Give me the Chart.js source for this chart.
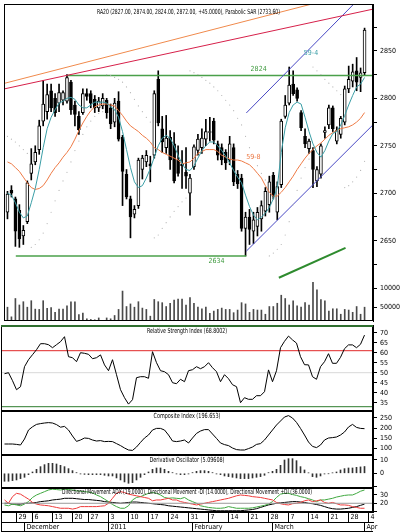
<!DOCTYPE html>
<html>
<head>
<meta charset="utf-8">
<title>RA20</title>
<script src="https://cdn.jsdelivr.net/npm/chart.js@4.4.1/dist/chart.umd.min.js"></script>
<style>
  html, body { margin: 0; padding: 0; background: #fff; }
  .board { position: relative; width: 400px; height: 532px; overflow: hidden; background: #fff; }
  .board canvas { position: absolute; left: 0; }
</style>
</head>
<body>
<div class="board">
  <canvas id="pricePanel" width="400" height="325" style="top:0"></canvas>
  <canvas id="rsiPanel" width="400" height="86" style="top:325px"></canvas>
  <canvas id="compositePanel" width="400" height="44" style="top:411px"></canvas>
  <canvas id="oscPanel" width="400" height="33" style="top:455px"></canvas>
  <canvas id="dmiPanel" width="400" height="44" style="top:488px"></canvas>
</div>
<script>
// daily candles, late Nov 2010 .. 1 Apr 2011
const opens = [
  2680,2703,2694,2682,2655,2670,2721,2733,2746,2776,
  2786,2808,2800,2795,2798,2797,2817,2793,2781,2785,
  2805,2805,2799,2790,2792,2798,2790,2775,2797,2759,
  2720,2694,2678,2687,2725,2733,2731,2740,2820,2768,
  2748,2759,2752,2735,2731,2722,2700,2728,2745,2748,
  2757,2764,2776,2752,2748,2743,2735,2748,2720,2716,
  2663,2675,2660,2665,2673,2681,2688,2719,2680,2709,
  2781,2795,2815,2809,2785,2760,2747,2745,2713,2720,
  2764,2772,2790,2755,2762,2775,2810,2818,2829,2822,
  2827];
const highs = [
  2702,2708,2696,2688,2666,2713,2747,2750,2777,2819,
  2815,2815,2805,2815,2808,2825,2819,2797,2786,2810,
  2810,2808,2803,2801,2805,2800,2794,2800,2807,2761,
  2725,2697,2687,2737,2740,2745,2739,2808,2829,2781,
  2782,2766,2764,2750,2745,2748,2720,2751,2762,2768,
  2778,2780,2779,2755,2752,2746,2760,2752,2724,2720,
  2680,2683,2680,2685,2692,2706,2718,2722,2712,2778,
  2803,2833,2829,2811,2787,2768,2757,2748,2728,2752,
  2770,2793,2792,2770,2781,2813,2834,2836,2843,2832,
  2874];
const lows = [
  2673,2696,2644,2643,2646,2668,2714,2730,2741,2771,
  2778,2786,2781,2786,2793,2795,2783,2771,2762,2783,
  2798,2790,2785,2786,2789,2779,2768,2770,2755,2687,
  2694,2653,2674,2684,2715,2728,2712,2737,2771,2743,
  2742,2725,2711,2718,2705,2705,2677,2725,2740,2742,
  2750,2755,2752,2735,2730,2725,2730,2708,2705,2660,
  2634,2646,2647,2655,2660,2676,2680,2694,2672,2706,
  2779,2793,2803,2797,2766,2748,2742,2706,2707,2716,
  2758,2768,2765,2752,2758,2772,2806,2812,2808,2807,
  2824];
const closes = [
  2699,2700,2660,2652,2661,2711,2731,2743,2771,2794,
  2804,2790,2785,2806,2806,2822,2788,2783,2767,2805,
  2802,2795,2790,2797,2800,2785,2773,2795,2757,2723,
  2696,2675,2683,2735,2737,2740,2729,2805,2774,2754,
  2758,2735,2713,2721,2729,2718,2716,2749,2757,2758,
  2765,2765,2756,2740,2735,2732,2752,2712,2710,2663,
  2675,2662,2672,2680,2687,2702,2712,2697,2707,2776,
  2793,2814,2805,2800,2769,2752,2755,2725,2725,2750,
  2766,2790,2768,2766,2779,2810,2820,2828,2817,2827,
  2872];
const volumes = [
  50000,24000,73400,56000,64800,50000,67500,44800,44000,67500,
  46600,49000,36200,44800,44800,53600,64800,64800,30000,34400,
  18700,17000,16000,21000,14000,21000,18700,27600,44000,93500,
  51800,58800,50000,64800,47600,44000,25800,70800,64800,62200,
  51800,60600,69300,71900,71900,56000,76000,60600,50000,45700,
  50000,33500,39500,44000,47600,44000,44000,35200,42300,62200,
  58800,36200,44000,42300,42300,31000,51800,51800,60600,82300,
  73400,56000,67500,53600,50000,62200,56000,117000,96900,70800,
  67500,39500,45700,45700,31000,44000,42300,36200,51800,31000,
  50000];
const fastMa = [
  2700,2698,2690,2680,2674,2676,2690,2705,2725,2748,
  2768,2780,2788,2795,2797,2800,2801,2799,2793,2790,
  2790,2793,2796,2796,2796,2795,2791,2788,2780,2765,
  2746,2727,2712,2706,2708,2716,2726,2738,2750,2758,
  2761,2758,2750,2740,2731,2725,2724,2729,2737,2745,
  2750,2754,2754,2750,2745,2739,2732,2724,2717,2711,
  2698,2686,2677,2672,2675,2679,2685,2694,2706,2743,
  2769,2785,2793,2796,2794,2780,2765,2752,2743,2738,
  2745,2755,2763,2765,2772,2782,2793,2803,2812,2815,
  2822];
const slowMa = [
  2733,2731,2727,2723,2717,2711,2706,2704,2705,2708,
  2714,2721,2727,2732,2738,2743,2749,2757,2766,2774,
  2781,2787,2791,2793,2794,2794,2793,2792,2787,2782,
  2776,2771,2768,2765,2761,2758,2754,2748,2746,2743,
  2741,2739,2737,2735,2731,2732,2733,2737,2742,2744,
  2746,2746,2746,2744,2740,2738,2736,2735,2735,2734,
  2732,2730,2726,2721,2716,2708,2701,2697,2697,2701,
  2706,2712,2718,2725,2731,2737,2742,2746,2750,2753,
  2757,2761,2764,2766,2768,2769,2770,2772,2775,2779,
  2785];
const sar = [
  2760,2757,2754,2750,2746,2742,2643,2646,2651,2658,
  2668,2680,2692,2703,2713,2722,2733,2745,2755,2762,
  2770,2776,2781,2784,2786,2825,2824,2822,2820,2817,
  2812,2806,2799,2792,2786,2780,2775,2653,2656,2663,
  2669,2675,2681,2686,2691,2695,2829,2827,2825,2822,
  2819,2816,2812,2808,2803,2798,2793,2787,2779,2772,
  2760,2748,2738,2729,2721,2714,2634,2637,2641,2646,
  2656,2670,2688,2703,2716,2727,2736,2833,2829,2825,
  2820,2816,2812,2808,2804,2706,2708,2712,2717,2724,
  2733.6];
const rsi = [
  49.5,50,46,41.5,43,53,56.5,59,61.5,64.5,
  64.5,64,62.5,64,65.5,68,58,57.5,55.5,60,
  59.7,59.2,57,57.5,58.9,53.9,51,56.5,49,41.5,
  37.5,34.3,36.5,47.5,48,48,47.2,60.5,55,51,
  50.5,49,45,44.5,46.7,45.5,51,51.5,53,52,
  53,55,52.5,50.5,45.5,49,47,44,43,35,
  37.5,36.7,36.7,38.5,38.5,40.5,51.4,45.5,51,62.5,
  65.7,68.3,66.4,64.8,58,54,53.9,48,46.7,53,
  55.5,59.5,54.7,54.7,57.7,62,63.9,63.9,62.5,64.2,
  68.8];
const composite = [
  120,120,120,118,115,145,190,206,218,222,
  225,227,225,217,204,208,190,160,133,140,
  150,148,140,135,137,132,133,132,122,112,
  100,90,88,105,128,150,165,190,198,198,
  190,165,135,132,135,140,125,150,173,185,
  192,192,170,148,125,117,112,100,92,90,
  90,97,105,118,122,140,165,190,215,235,
  255,262,250,228,198,165,130,108,102,115,
  140,150,152,155,165,180,205,218,203,198,
  196.7];
const derivOsc = [
  -6,-6,-5.5,-5,-4,-3,-1,1,3,5,
  6.5,7.5,7.5,7,6,5,3.5,2,0.5,-0.5,
  -0.8,-1,-1,-1,-1,-1.5,-2,-2,-3.5,-5,
  -6.5,-7.5,-7,-5,-3,-1,1,3,4,4,
  3,1.5,0.5,-0.5,-1,-1,-0.5,0.5,1.5,2,
  2,1.5,0.5,-0.5,-1,-2,-2.5,-3,-3.5,-4,
  -4,-4,-3.5,-3,-2.5,-1.5,0.5,1.5,3,6,
  10,11,11,9.5,5,2.5,0.3,-2.5,-3,-2,
  -0.5,-0.3,0.3,1,2.5,3.5,4,4,4.5,4.8,
  5.1];
const adx = [
  20,20,19,19,19,20,20,20.5,21,22,
  22.5,23,24,24.5,25,26,26,26,25.5,25,
  24.5,24.5,24,23.5,23,22,21.5,21,20.5,20,
  20.5,21,21.5,21.5,21,20.5,20,19.5,19,18.5,
  18,17,16.5,16,15.5,15,14.5,14,13.5,13,
  12.5,12,11.5,11,11,11,11,11,11,11,
  11.5,12,12.5,13.5,15,16.5,18,19,20,20.5,
  21,21.5,22,22,21.5,21,20,19.5,18.5,17.5,
  16,14.5,13.5,13,13,13.5,14,15,16,17.5,
  19];
const minusDi = [
  24,20,28,32,31,28,25,21,19,18,
  17.5,17,16,15,14,14,14,13,14,16,
  16,16,16,16,16.5,17,20,26,32,34,
  33,31,30,29,28,27,26,23,24,24,
  25,26,24,24,22,21,20,19,18,19,
  20,21,22,23,24,25,26,27.5,29,30,
  29.5,29,28,27.5,27,26,25,24,21,19.5,
  18.5,18,19.5,20,21,23,24,22,23,24,
  21,20,21,19.5,18,18,17.5,16,15,14,
  14];
const plusDi = [
  18,17,19,18,17,19,22,27,30,32,
  34,36,37,36.5,36,37,36.5,36,35,34.5,
  34,33.5,32.5,30,28,25,22,18.5,16,14,
  14,17,24,27,28,30,32,33,32,30,
  27,26,26.5,26,25.5,27,24,22,20,17,
  16,15,14.5,14,14,14.5,16,15,14,14,
  14,14,14.5,15.5,16.5,17.5,19,22,27,31,
  32,32,30.5,29.5,28,27,25.5,24,22,24,
  24,25,26,27.5,28.5,29.5,30,30,32,34.5,
  36];

// date axis: week starts and month starts, as candle indexes
const weekIdx = [3, 7, 12, 17, 21, 26, 31, 36, 41, 46, 51, 56, 61, 66, 71, 76, 81, 86, 91];
const weekText = ['29', '6', '13', '20', '27', '3', '10', '17', '24', '31', '7', '14', '21', '28', '7', '14', '21', '28', '4'];
const monthIdx = [5, 26, 47, 67, 90];
const monthText = ['December', '2011', 'February', 'March', 'Apr'];

// right axis ticks
const priceTicks = [2625, 2650, 2675, 2700, 2725, 2750, 2775, 2800, 2825, 2850, 2875];
const priceLabels = [2650, 2700, 2750, 2800, 2850];
const volumeTicks = [50000, 100000];
const rsiTicks = [35, 40, 45, 50, 55, 60, 65, 70];
const compositeTicks = [100, 150, 200, 250];
const oscTicks = [-10, 0, 10];
const oscLabels = [0, 10];
const dmiTicks = [10, 20, 30];
const dmiLabels = [20, 30];

const FONT = "'Liberation Sans Narrow', 'DejaVu Sans Condensed', 'Liberation Sans', Arial, sans-serif";
const tickFont = { family: FONT, size: 7 };
const X_MIN = -0.875, X_MAX = 92.125, AXIS_W = 27;

const pts = arr => arr.map((y, i) => ({ x: i, y }));
const segment = (x1, y1, x2, y2) => [{ x: x1, y: y1 }, { x: x2, y: y2 }];
const level = v => segment(X_MIN, v, X_MAX, v);

function lineSet(data, color, axis, width) {
  return { type: 'line', data, borderColor: color, borderWidth: width || 1, pointRadius: 0,
           fill: false, yAxisID: axis, order: 0 };
}

function rightAxis(min, max, ticks, labelled, extra) {
  return Object.assign({
    type: 'linear', position: 'right', min, max,
    afterBuildTicks: s => { s.ticks = ticks.map(v => ({ value: v })); },
    afterFit: s => { s.width = AXIS_W; s.paddingTop = 0; s.paddingBottom = 0; },
    ticks: { font: tickFont, color: '#000', padding: 3, autoSkip: false,
             callback: v => labelled.includes(v) ? String(v) : '' },
    grid: { drawOnChartArea: false, tickLength: 4, color: '#000' },
    border: { color: '#000' }
  }, extra || {});
}

const hiddenX = () => ({ type: 'linear', display: false, min: X_MIN, max: X_MAX, offset: false });

function panelOptions(scales, plugins) {
  return {
    responsive: false, animation: false, events: [],
    layout: { padding: { left: 1, right: 0, top: 0, bottom: 0 } },
    scales,
    plugins: Object.assign({ legend: { display: false }, tooltip: { enabled: false } }, plugins)
  };
}

Chart.register({
  id: 'panelFrame',
  afterDatasetsDraw(chart, args, opts) {
    const { ctx, chartArea: a } = chart;
    ctx.save();
    ctx.strokeStyle = '#000';
    ctx.lineWidth = 1;
    ctx.strokeRect(a.left + 0.5, a.top + 0.5, a.right - a.left - 1, a.bottom - a.top - 1);
    if (opts.topColor) {
      ctx.strokeStyle = opts.topColor;
      ctx.lineWidth = 2;
      ctx.beginPath();
      ctx.moveTo(a.left, a.top + 1);
      ctx.lineTo(a.right, a.top + 1);
      ctx.stroke();
    }
    if (opts.dateRows) {
      ctx.strokeStyle = '#000';
      ctx.lineWidth = 1;
      ctx.beginPath();
      ctx.moveTo(a.left + 0.5, a.bottom);
      ctx.lineTo(a.left + 0.5, chart.height);
      ctx.moveTo(a.left, chart.height - 0.5);
      ctx.lineTo(a.right, chart.height - 0.5);
      ctx.stroke();
    }
    ctx.restore();
  }
});

Chart.register({
  id: 'panelTitle',
  afterDatasetsDraw(chart, args, opts) {
    if (!opts.text) return;
    const { ctx, chartArea: a } = chart;
    ctx.save();
    ctx.font = '7px ' + FONT;
    const w = ctx.measureText(opts.text).width;
    ctx.translate((a.left + a.right) / 2, a.top + opts.dy);
    ctx.scale(opts.width / w, 1);
    ctx.textAlign = 'center';
    ctx.textBaseline = 'middle';
    ctx.fillStyle = '#000';
    ctx.fillText(opts.text, 0, 0);
    ctx.restore();
  }
});

Chart.register({
  id: 'notes',
  afterDatasetsDraw(chart, args, opts) {
    if (!opts.items) return;
    const { ctx } = chart;
    const xs = chart.scales.x, ys = chart.scales[opts.axis];
    ctx.save();
    ctx.font = '7px ' + FONT;
    ctx.textAlign = 'center';
    ctx.textBaseline = 'middle';
    opts.items.forEach(n => {
      ctx.fillStyle = n.color;
      ctx.fillText(n.text, xs.getPixelForValue(n.x), ys.getPixelForValue(n.y) + n.dy);
    });
    ctx.restore();
  }
});

const bodyColors = closes.map((c, i) => c >= opens[i] ? '#fff' : '#000');

// price + volume
new Chart(document.getElementById('pricePanel'), {
  type: 'bar',
  data: {
    datasets: [
      lineSet(pts(fastMa), '#3b9ea6', 'price'),
      lineSet(pts(slowMa), '#ee7a45', 'price'),
      { type: 'line', data: pts(sar), showLine: false, pointRadius: 0.6, pointBorderWidth: 0,
        pointBackgroundColor: '#b4b4b4', yAxisID: 'price', order: 0 },
      lineSet(segment(-1.075, 2815.5, 92.125, 2916), '#f08a4c', 'price'),
      lineSet(segment(-1.075, 2809.7, 92.125, 2894), '#d6204a', 'price'),
      lineSet(segment(60.2, 2784.6, 88, 2902.4), '#4848c4', 'price'),
      lineSet(segment(60.2, 2639, 92.1, 2772), '#4848c4', 'price'),
      lineSet(segment(15.2, 2824, X_MAX, 2824), '#4aa04a', 'price', 1.5),
      lineSet(segment(2.1, 2634, 60.2, 2634), '#4aa04a', 'price', 1.5),
      lineSet(segment(68.4, 2611, 85.2, 2642.4), '#2e8b2e', 'price', 2),
      { label: 'bodies', data: closes.map((c, i) => ({ x: i, y: [opens[i], c] })),
        backgroundColor: bodyColors, borderColor: '#000', borderWidth: 1, borderSkipped: false,
        barThickness: 3, grouped: false, minBarLength: 1, yAxisID: 'price', order: 1 },
      { label: 'wicks', data: lows.map((l, i) => ({ x: i, y: [l, highs[i]] })),
        backgroundColor: '#000', barThickness: 1, grouped: false, yAxisID: 'price', order: 2 },
      { label: 'volume', data: pts(volumes), backgroundColor: '#4a4a4a', barThickness: 1,
        grouped: false, yAxisID: 'vol', order: 2 }
    ]
  },
  options: panelOptions({
    x: hiddenX(),
    price: rightAxis(2606.5, 2899.4, priceTicks, priceLabels, { stack: 'main', stackWeight: 285 }),
    vol: rightAxis(12760, 118000, volumeTicks, volumeTicks, { stack: 'main', stackWeight: 40 })
  }, {
    panelTitle: { text: 'RA20 (2827.00, 2874.00, 2824.00, 2872.00, +45.0000), Parabolic SAR (2733.60)', width: 183, dy: 8 },
    notes: { axis: 'price', items: [
      { text: '2824', x: 63.3, y: 2824, dy: -6, color: '#3f9a3f' },
      { text: '2634', x: 52.7, y: 2634, dy: 5, color: '#3f9a3f' },
      { text: '59-4', x: 76.5, y: 2848, dy: 0, color: '#3b9ea6' },
      { text: '59-8', x: 62, y: 2738, dy: 0, color: '#ee7a45' }
    ] }
  })
});

// relative strength index
new Chart(document.getElementById('rsiPanel'), {
  type: 'line',
  data: {
    datasets: [
      lineSet(pts(rsi), '#000', 'y'),
      lineSet(level(61), '#e02828', 'y'),
      lineSet(level(33), '#2e7d2e', 'y'),
      lineSet(level(50), '#d8d8d8', 'y')
    ]
  },
  options: panelOptions({ x: hiddenX(), y: rightAxis(30.85, 73.85, rsiTicks, rsiTicks) }, {
    panelTitle: { text: 'Relative Strength Index (68.8002)', width: 80, dy: 6 },
    panelFrame: { topColor: '#2f6f2f' }
  })
});

// composite index
new Chart(document.getElementById('compositePanel'), {
  type: 'line',
  data: { datasets: [lineSet(pts(composite), '#000', 'y')] },
  options: panelOptions({ x: hiddenX(), y: rightAxis(65, 285, compositeTicks, compositeTicks) }, {
    panelTitle: { text: 'Composite Index (196.653)', width: 67, dy: 5.5 }
  })
});

// derivative oscillator
new Chart(document.getElementById('oscPanel'), {
  type: 'bar',
  data: {
    datasets: [{ data: pts(derivOsc), backgroundColor: '#333', barThickness: 1, grouped: false, yAxisID: 'y' }]
  },
  options: panelOptions({ x: hiddenX(), y: rightAxis(-11.05, 13.75, oscTicks, oscLabels) }, {
    panelTitle: { text: 'Derivative Oscillator (5.09608)', width: 75, dy: 5 }
  })
});

// directional movement + date rows
new Chart(document.getElementById('dmiPanel'), {
  type: 'line',
  data: {
    datasets: [
      lineSet(level(20), '#9a9a9a', 'y'),
      lineSet(pts(minusDi), '#ee3a3a', 'y'),
      lineSet(pts(plusDi), '#3fa83f', 'y'),
      lineSet(pts(adx), '#000', 'y')
    ]
  },
  options: panelOptions({
    x: {
      type: 'linear', position: 'bottom', min: X_MIN, max: X_MAX, offset: false,
      afterBuildTicks: s => { s.ticks = weekIdx.map(v => ({ value: v })); },
      afterFit: s => { s.height = 10; s.paddingLeft = 0; s.paddingRight = 0; },
      ticks: { autoSkip: false, maxRotation: 0, minRotation: 0, align: 'start', padding: -9,
               font: tickFont, color: '#000',
               callback: v => { const k = weekIdx.indexOf(v); return k < 0 ? '' : ' ' + weekText[k]; } },
      grid: { drawOnChartArea: false, tickLength: 10, color: '#000' },
      border: { color: '#000' }
    },
    x2: {
      type: 'linear', position: 'bottom', min: X_MIN, max: X_MAX, offset: false,
      afterBuildTicks: s => { s.ticks = monthIdx.map(v => ({ value: v })); },
      afterFit: s => { s.height = 10; s.paddingLeft = 0; s.paddingRight = 0; },
      ticks: { autoSkip: false, maxRotation: 0, minRotation: 0, align: 'start', padding: -9,
               font: tickFont, color: '#000',
               callback: v => { const k = monthIdx.indexOf(v); return k < 0 ? '' : ' ' + monthText[k]; } },
      grid: { drawOnChartArea: false, tickLength: 10, color: '#000' },
      border: { color: '#000' }
    },
    y: rightAxis(9.5, 38.4, dmiTicks, dmiLabels)
  }, {
    panelTitle: { text: 'Directional Movement ADX (19.0000), Directional Movement -DI (14.0000), Directional Movement +DI (36.0000)', width: 250, dy: 4 },
    panelFrame: { dateRows: true }
  })
});
</script>
</body>
</html>
